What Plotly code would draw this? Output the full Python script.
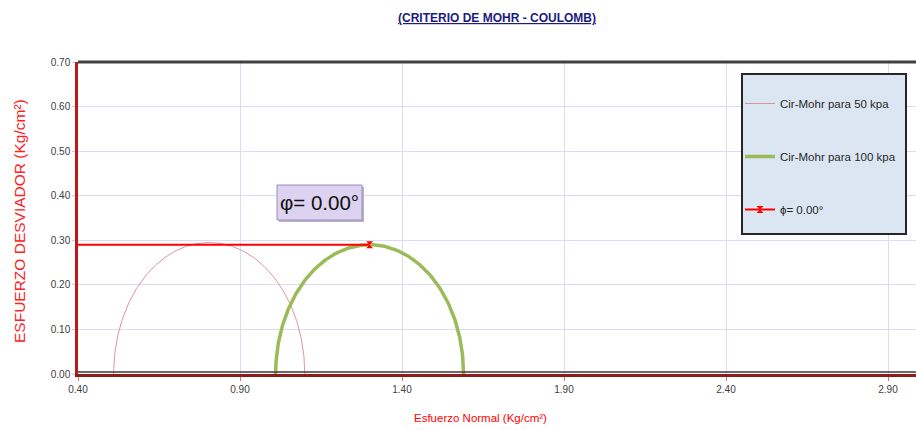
import numpy as np
import plotly.graph_objects as go

# Principal stresses for each confining pressure (Kg/cm²)
labels = ["Cir-Mohr para 50 kpa", "Cir-Mohr para 100 kpa"]
sigma3 = [0.51, 1.01]
sigma1 = [1.10, 1.59]
circle_colors = ["#e09696", "#9bbb59"]
circle_widths = [1, 3.5]

# Mohr-Coulomb envelope: cohesion and friction angle
cohesion = 0.29
phi_deg = 0.00
envelope_label = "ϕ= 0.00°"

x_ticks = [0.40, 0.90, 1.40, 1.90, 2.40, 2.90]
y_ticks = [0.00, 0.10, 0.20, 0.30, 0.40, 0.50, 0.60, 0.70]

FONT = "Liberation Sans, Arial, sans-serif"

fig = go.Figure()

theta = np.linspace(0, np.pi, 241)
for i, name in enumerate(labels):
    c = (sigma1[i] + sigma3[i]) / 2
    r = (sigma1[i] - sigma3[i]) / 2
    fig.add_trace(go.Scatter(
        x=c + r * np.cos(theta), y=r * np.sin(theta),
        mode="lines", name=name, legendgroup=f"g{i}",
        line=dict(color=circle_colors[i], width=circle_widths[i]),
        hoverinfo="skip",
    ))

# Envelope from the origin to the top of the largest circle
env_end = (sigma1[-1] + sigma3[-1]) / 2
env_x = [0.0, env_end]
env_y = [cohesion + np.tan(np.radians(phi_deg)) * x for x in env_x]
fig.add_trace(go.Scatter(
    x=env_x, y=env_y, mode="lines+markers", name=envelope_label,
    legendgroup="env",
    line=dict(color="#ff0000", width=2),
    marker=dict(symbol="hourglass", size=7, color="#ff0000"),
    hoverinfo="skip",
))

L, R, T, B = 78, 916, 62, 374
W = R - L
H = B - T


def px(x):
    return (x - L) / W


def py(y):
    return (B - y) / H


shapes = [
    # top frame line
    dict(type="line", xref="paper", yref="paper", x0=0, x1=1, y0=1, y1=1,
         line=dict(color="#404040", width=3)),
    # dark edge on top of the base axis
    dict(type="line", xref="paper", yref="paper", x0=0, x1=1, y0=py(B - 2), y1=py(B - 2),
         line=dict(color="#4a3030", width=1.5)),
    # legend panel
    dict(type="rect", xref="paper", yref="paper", layer="above",
         x0=px(742), x1=px(906), y0=py(234), y1=py(74),
         fillcolor="#dce6f2", line=dict(color="#262626", width=2)),
    # label box shadow and box
    dict(type="rect", xref="paper", yref="paper", layer="above",
         x0=px(279), x1=px(364), y0=py(222), y1=py(187),
         fillcolor="#b9b3c9", line=dict(width=0)),
    dict(type="rect", xref="paper", yref="paper", layer="above",
         x0=px(277), x1=px(362), y0=py(220), y1=py(185),
         fillcolor="#ddd3f0", line=dict(color="#9a8cbf", width=1)),
]

annotations = [
    dict(text="<b><u>(CRITERIO DE MOHR - COULOMB)</u></b>", xref="paper", yref="paper",
         x=0.5, y=py(18), showarrow=False, xanchor="center", yanchor="middle",
         font=dict(family=FONT, size=12, color="#1c1c80")),
    dict(text="Esfuerzo Normal (Kg/cm²)", xref="paper", yref="paper",
         x=px(480), y=py(418), showarrow=False, xanchor="center", yanchor="middle",
         font=dict(family=FONT, size=11.5, color="#ff0000")),
    dict(text="ESFUERZO DESVIADOR (Kg/cm²)", xref="paper", yref="paper",
         x=px(19), y=py(221), showarrow=False, textangle=-90,
         xanchor="center", yanchor="middle",
         font=dict(family=FONT, size=15.5, color="#ff2020")),
    dict(text="φ= 0.00°", xref="paper", yref="paper",
         x=px(319.5), y=py(202.5), showarrow=False, xanchor="center", yanchor="middle",
         font=dict(family=FONT, size=20.5, color="#111111")),
]

fig.update_layout(
    width=916, height=430, autosize=False,
    margin=dict(l=L, r=0, t=T, b=430 - B),
    plot_bgcolor="white", paper_bgcolor="white",
    shapes=shapes, annotations=annotations,
    showlegend=True,
    legend=dict(
        x=px(740), y=py(89), xanchor="left", yanchor="top",
        bgcolor="rgba(0,0,0,0)", borderwidth=0,
        traceorder="grouped", tracegroupgap=34,
        font=dict(family=FONT, size=11.5, color="#262626"),
    ),
    xaxis=dict(
        range=[0.40, 0.40 + W / 324.0], tickvals=x_ticks, tickformat=".2f",
        showgrid=True, gridcolor="#dadafa", gridwidth=1, zeroline=False,
        showline=True, linecolor="#8a1c1c", linewidth=3,
        ticks="outside", ticklen=4, tickcolor="#e07070",
        tickfont=dict(family=FONT, size=10, color="#404040"),
    ),
    yaxis=dict(
        range=[0, 0.70], tickvals=y_ticks, tickformat=".2f",
        showgrid=True, gridcolor="#dadafa", gridwidth=1, zeroline=False,
        showline=True, linecolor="#c01818", linewidth=2.5,
        ticks="outside", ticklen=3, tickcolor="#c8c8f0",
        tickfont=dict(family=FONT, size=10, color="#404040"),
    ),
)

fig.write_html("out.html")
